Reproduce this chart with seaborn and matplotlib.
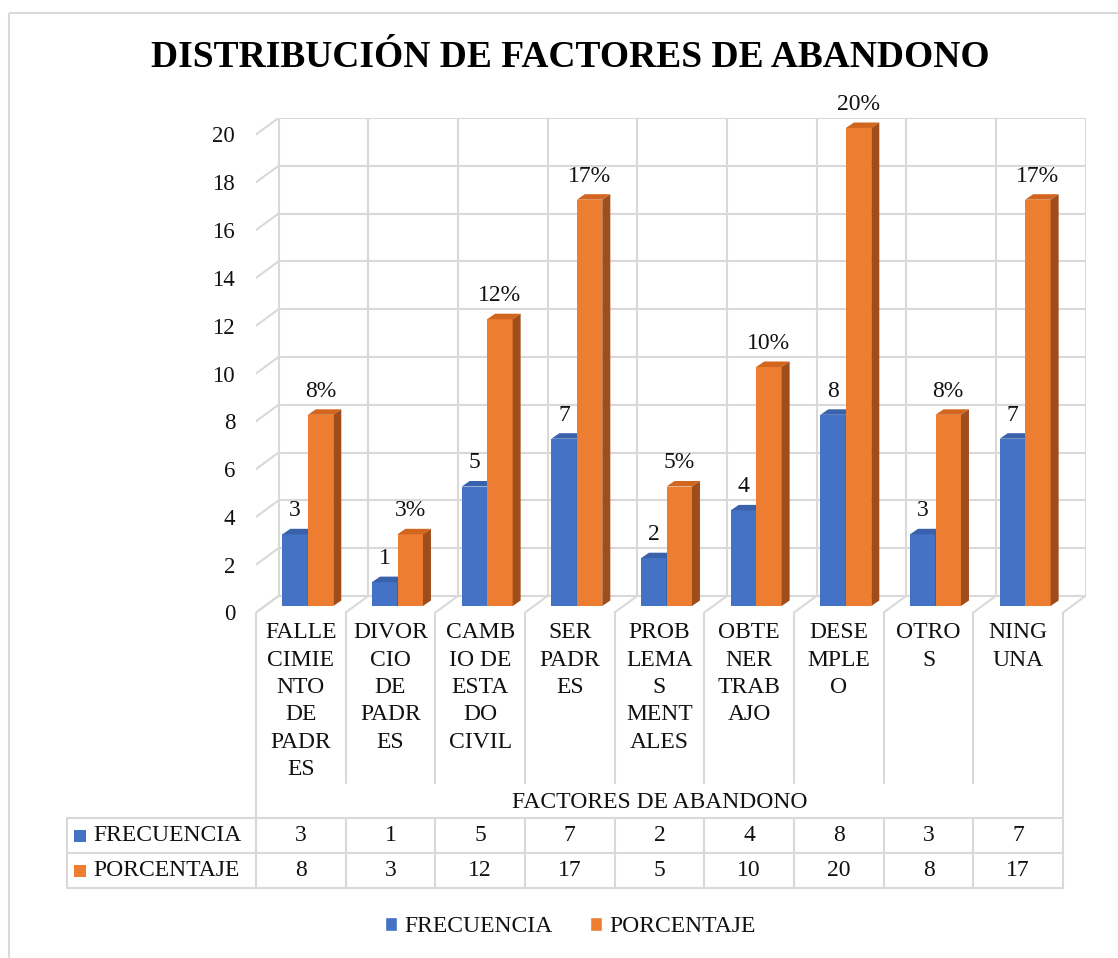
import numpy as np
import pandas as pd
import matplotlib
matplotlib.use("Agg")
import matplotlib.pyplot as plt
import matplotlib.transforms as mtransforms
from matplotlib.patches import Polygon, Rectangle, Patch
import seaborn as sns

# ---------------- data ----------------
CATEGORIES = ["FALLE\nCIMIE\nNTO\nDE\nPADR\nES", "DIVOR\nCIO\nDE\nPADR\nES",
              "CAMB\nIO DE\nESTA\nDO\nCIVIL", "SER\nPADR\nES",
              "PROB\nLEMA\nS\nMENT\nALES", "OBTE\nNER\nTRAB\nAJO",
              "DESE\nMPLE\nO", "OTRO\nS", "NING\nUNA"]
FRECUENCIA = [3, 1, 5, 7, 2, 4, 8, 3, 7]
PORCENTAJE = [8, 3, 12, 17, 5, 10, 20, 8, 17]
SERIES = ["FRECUENCIA", "PORCENTAJE"]
Y_TICKS = list(range(0, 21, 2))
TITLE = "DISTRIBUCIÓN DE FACTORES DE ABANDONO"
X_TITLE = "FACTORES DE ABANDONO"

# ---------------- style ----------------
sns.set_style("white")
plt.rcParams["font.family"] = ["Liberation Serif", "DejaVu Serif"]
BLUE, ORANGE = "#4472C4", "#ED7D31"
BLUE_TOP, BLUE_SIDE = "#3A62AC", "#2F528F"
ORANGE_TOP, ORANGE_SIDE = "#D2661E", "#A04D1C"
GRID = "#D9D9D9"
FS = 17
TXT = "#111111"

W, H = 1118, 958
fig = plt.figure(figsize=(W / 100, H / 100), dpi=100)

# pixel geometry of the chart
FRONT_L, FRONT_R = 256.0, 1063.0
COLW = (FRONT_R - FRONT_L) / 9
Y0_PX, PX_PER_UNIT = 612.5, 23.9
DX = 22.5 / COLW            # depth of the back wall (x, data units)
DY = 16.5 / PX_PER_UNIT     # depth of the back wall (y, data units)
BX, BY = 7.0 / COLW, 6.5 / PX_PER_UNIT   # bars sit mid-depth
EX, EY = 8.0 / COLW, 5.5 / PX_PER_UNIT   # bar extrusion
TOP_PX = Y0_PX - PX_PER_UNIT * (20 + DY)
RIGHT_PX = FRONT_R + DX * COLW

# overlay axes in pixel coordinates
oax = fig.add_axes([0, 0, 1, 1], zorder=0)
oax.set_xlim(0, W)
oax.set_ylim(H, 0)
oax.axis("off")

# main axes
ax = fig.add_axes([FRONT_L / W, (H - Y0_PX) / H, (RIGHT_PX - FRONT_L) / W,
                   (Y0_PX - TOP_PX) / H], zorder=1)
ax.set_facecolor("none")

df = pd.DataFrame({
    "cat": CATEGORIES * 2,
    "serie": [SERIES[0]] * len(CATEGORIES) + [SERIES[1]] * len(CATEGORIES),
    "val": FRECUENCIA + PORCENTAJE,
})
sns.barplot(data=df, x="cat", y="val", hue="serie", order=CATEGORIES,
            hue_order=SERIES, palette=[BLUE, ORANGE], width=0.568,
            saturation=1, legend=False, ax=ax, zorder=3)

ax.set_xlim(-0.5, 8.5 + DX)
ax.set_ylim(0, 20 + DY)
for s in ax.spines.values():
    s.set_visible(False)
ax.set_xlabel("")
ax.set_ylabel("")
ax.set_yticks(Y_TICKS)
ax.set_yticklabels([str(v) for v in Y_TICKS], fontsize=16.5, color=TXT)
ax.set_xticks(range(len(CATEGORIES)))
ax.set_xticklabels(CATEGORIES, fontsize=FS, linespacing=1.4, color=TXT)
ax.tick_params(axis="y", length=0, pad=15)
ax.tick_params(axis="x", length=0, pad=7)
ax.grid(False)

# back wall grid, side diagonals, floor diagonals
x_back0 = -0.5 + DX
for v in Y_TICKS:
    ax.plot([x_back0, 8.5 + DX], [v + DY, v + DY], color=GRID, lw=1.5, zorder=1)
    ax.plot([-0.5, x_back0], [v, v + DY], color=GRID, lw=1.5, zorder=1)
for k in range(10):
    ax.plot([x_back0 + k, x_back0 + k], [DY, 20 + DY], color=GRID, lw=1.5, zorder=1)
    ax.plot([-0.5 + k, -0.5 + k + DX], [0, DY], color=GRID, lw=1.5, zorder=1)

# 3D bars
off = mtransforms.Affine2D().translate(BX, BY) + ax.transData
faces = [(BLUE_TOP, BLUE_SIDE), (ORANGE_TOP, ORANGE_SIDE)]
for ci, cont in enumerate(ax.containers):
    top_c, side_c = faces[ci]
    z = 3 + ci
    for p in cont.patches:
        p.set_transform(off)
        p.set_zorder(z)
        p.set_edgecolor("none")
        x0, w, h = p.get_x(), p.get_width(), p.get_height()
        top = Polygon([(x0, h), (x0 + w, h), (x0 + w + EX, h + EY), (x0 + EX, h + EY)],
                      closed=True, facecolor=top_c, edgecolor="none",
                      transform=off, zorder=z)
        side = Polygon([(x0 + w, 0), (x0 + w + EX, EY), (x0 + w + EX, h + EY), (x0 + w, h)],
                       closed=True, facecolor=side_c, edgecolor="none",
                       transform=off, zorder=z)
        ax.add_patch(top)
        ax.add_patch(side)
        lab = f"{h:.0f}" if ci == 0 else f"{h:.0f}%"
        ax.annotate(lab, xy=(x0 + w / 2, h), xycoords=off, xytext=(0, 13),
                    textcoords="offset points", ha="center", va="baseline",
                    fontsize=FS, color=TXT, zorder=6, annotation_clip=False)

# ---------------- overlay: frame, title, table, legend ----------------
oax.add_patch(Rectangle((8.5, 13), W + 20, H + 20, fill=False, edgecolor=GRID, lw=1.5))
oax.text(570, 57, TITLE, ha="center", va="center", fontsize=27, fontweight="bold",
         color="black")

T_TOP, T_MID, T_BOT, T_LEFT, SEP_END = 818, 853, 888, 67, 783
for k in range(10):
    xk = FRONT_L + COLW * k
    if k in (0, 9):
        oax.plot([xk, xk], [Y0_PX, T_BOT], color=GRID, lw=1.5)
    else:
        oax.plot([xk, xk], [Y0_PX, SEP_END], color=GRID, lw=1.5)
        oax.plot([xk, xk], [T_TOP, T_BOT], color=GRID, lw=1.5)
for yy in (T_TOP, T_MID, T_BOT):
    oax.plot([T_LEFT, FRONT_R], [yy, yy], color=GRID, lw=1.5)
oax.plot([T_LEFT, T_LEFT], [T_TOP, T_BOT], color=GRID, lw=1.5)

oax.text((FRONT_L + FRONT_R) / 2, 803, X_TITLE, ha="center", va="center",
         fontsize=FS, color=TXT)

rows = [(SERIES[0], FRECUENCIA, BLUE), (SERIES[1], PORCENTAJE, ORANGE)]
for r, (name, vals, col) in enumerate(rows):
    yc = (T_TOP + T_MID) / 2 if r == 0 else (T_MID + T_BOT) / 2
    oax.add_patch(Rectangle((74, yc - 6), 12, 12, facecolor=col, edgecolor="none"))
    oax.text(93, yc, name, ha="left", va="center", fontsize=FS, color=TXT)
    for i, v in enumerate(vals):
        oax.text(FRONT_L + COLW * (i + 0.5), yc, str(v), ha="center", va="center",
                 fontsize=FS, color=TXT)

handles = [Patch(facecolor=BLUE, label=SERIES[0]), Patch(facecolor=ORANGE, label=SERIES[1])]
fig.legend(handles=handles, loc="center", bbox_to_anchor=(570.5 / W, 1 - 927 / H),
           ncol=2, frameon=False, fontsize=FS, handlelength=0.5, handleheight=0.5,
           handletextpad=0.3, columnspacing=1.6, labelcolor=TXT)

fig.savefig("out.png", dpi=100)
